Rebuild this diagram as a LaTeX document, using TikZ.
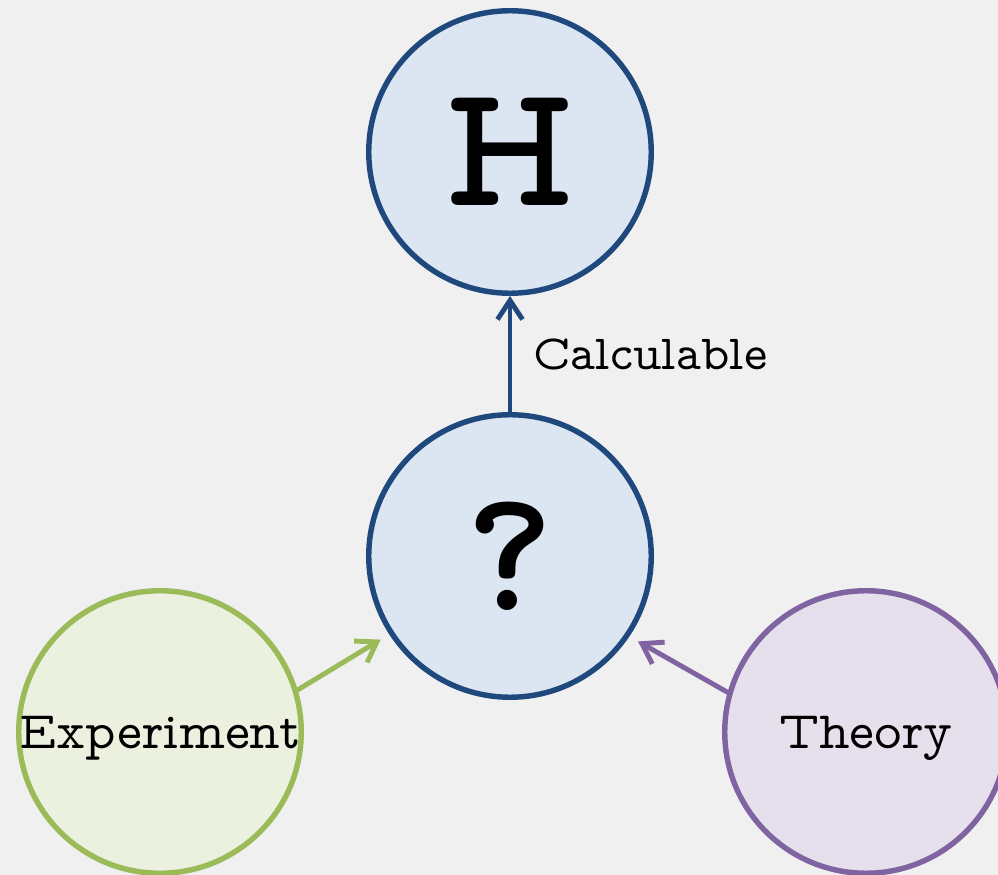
\documentclass[tikz,border=0pt]{standalone}
\usepackage{fontspec}
\usepackage{tikz}
\usetikzlibrary{arrows.meta,positioning,calc}
\newfontfamily\typew[BoldFont=lmmonoproplt10-bold.otf]{lmmonoprop10-regular.otf}
\definecolor{hamBlue}  {RGB}{ 31,  73, 125}
\definecolor{hamFill}  {RGB}{220, 230, 242}
\definecolor{expGreen} {RGB}{155, 187,  89}
\definecolor{expFill}  {RGB}{235, 241, 222}
\definecolor{theoPurp} {RGB}{128, 100, 162}
\definecolor{theoFill} {RGB}{229, 224, 236}
\definecolor{paperGray}{RGB}{240, 240, 240}

\begin{document}
\begin{tikzpicture}[
          bigno/.style={circle,draw=hamBlue,fill=hamFill,line width=3.1pt,
                        minimum size=5.65cm,inner sep=0pt,
                        font=\typew\bfseries\fontsize{100}{100}\selectfont},
          expno/.style={circle,draw=expGreen,fill=expFill,line width=3.1pt,
                        minimum size=5.65cm,inner sep=0pt,text depth=0pt,
                        font=\typew\fontsize{30}{32}\selectfont},
          theono/.style={circle,draw=theoPurp,fill=theoFill,line width=3.1pt,
                        minimum size=5.65cm,inner sep=0pt,text depth=0pt,
                        font=\typew\fontsize{30}{32}\selectfont},
          arr/.style={-{Straight Barb[length=3.8mm,width=5mm]},line width=2.8pt,
                        line cap=round,line join=round},
        ]
        \fill[paperGray] (0,0) rectangle (19.96,-17.5);
        \useasboundingbox (0,0) rectangle (19.96,-17.5);

        % Hamiltonian and the unknown
        \node[bigno] (h) at (10.2,-3.04) {H};
        \node[bigno] (q) at (10.2,-11.12) {?};

        % inputs
        \node[expno]  (exp) at (3.2,-14.64) {Experiment};
        \node[theono] (th)  at (17.32,-14.64) {Theory};

        \draw[arr,hamBlue] (q) -- (h)
          node[midway,right=0.3cm,font=\typew\fontsize{28}{30}\selectfont,text=black]{Calculable};
        \draw[arr,expGreen,shorten >=0.2cm] (exp.17) -- (q.213);
        \draw[arr,theoPurp,shorten >=0.2cm] (th.164) -- (q.326);
      \end{tikzpicture}
\end{document}
